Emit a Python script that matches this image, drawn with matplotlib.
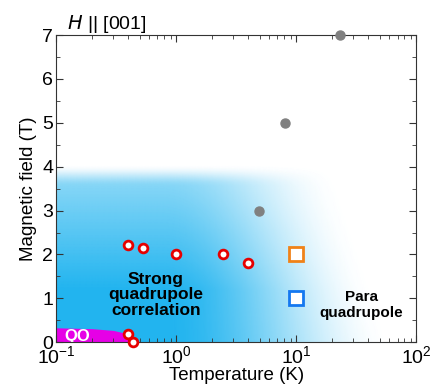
import numpy as np
import matplotlib.pyplot as plt
from matplotlib.colors import LinearSegmentedColormap

plt.rcParams['font.family'] = ['Liberation Sans', 'DejaVu Sans']
plt.rcParams['mathtext.default'] = 'regular'

# data
red_T = [0.396, 0.534, 1.0, 2.48, 4.0, 0.395, 0.44]
red_H = [2.21, 2.15, 2.02, 2.01, 1.80, 0.19, 0.0]
gray_T = [4.92, 8.15, 23.1]
gray_H = [3.0, 5.0, 7.0]
sq_orange = (10.0, 2.0)
sq_blue = (10.0, 1.0)
qo_T = [0.1, 0.2, 0.3, 0.36, 0.39, 0.42]
qo_H = [0.33, 0.31, 0.27, 0.22, 0.1, 0.0]

fig = plt.figure(figsize=(4.38, 3.85), dpi=100)
ax = fig.add_axes([0.128, 0.111, 0.822, 0.798])
ax.set_xscale('log')
ax.set_xlim(0.1, 100)
ax.set_ylim(0, 7)

# blue "strong correlation" shading
u = np.linspace(-1, 2, 300)
h = np.linspace(0, 7, 300)
U, Hm = np.meshgrid(u, h)
u_end = 1.8 - 0.12 * Hm
s = np.clip((u_end - U) / (u_end + 0.1), 0, 1)
fx = s * s * (3 - 2 * s)
t = np.clip((4.05 - Hm) / 0.5, 0, 1)
fy = t * t * (3 - 2 * t) * (1 - 0.45 * np.clip((Hm - 1.2) / 2.4, 0, 1))
inten = np.clip(fx * fy, 0, 1)
cmap = LinearSegmentedColormap.from_list('bl', ['#ffffff', '#22b4ef'])
ax.pcolormesh(10 ** U, Hm, inten, cmap=cmap, vmin=0, vmax=1, shading='gouraud', zorder=0)

ax.fill_between(qo_T, 0, qo_H, color='#e600e6', lw=0, zorder=1)
ax.text(0.15, 0.14, 'QO', color='white', fontsize=12, fontweight='bold',
        ha='center', va='center', zorder=2)

ax.plot(gray_T, gray_H, 'o', color='#808080', ms=6.5, clip_on=False, zorder=4)
ax.plot(red_T, red_H, 'o', mfc='white', mec='#e60000', mew=2, ms=6.3, clip_on=False, zorder=4)
ax.plot(*sq_orange, 's', mfc='white', mec='#f08218', mew=2, ms=9.5, zorder=4)
ax.plot(*sq_blue, 's', mfc='white', mec='#1478f0', mew=2, ms=9.5, zorder=4)

ax.text(0.68, 1.08, 'Strong\nquadrupole\ncorrelation', fontsize=12.5, fontweight='bold',
        ha='center', va='center', linespacing=1.05, zorder=3)
ax.text(35, 0.85, 'Para\nquadrupole', fontsize=11, fontweight='bold',
        ha='center', va='center', linespacing=1.15, zorder=3)

ax.set_yticks(range(0, 8))
ax.set_yticks(np.arange(0.5, 7, 1), minor=True)
ax.tick_params(which='both', direction='in', top=True, right=True, color='#333333')
ax.tick_params(which='major', length=5, labelsize=14, pad=2)
ax.tick_params(which='minor', length=3)
for sp in ax.spines.values():
    sp.set_color('#333333')

ax.set_xlabel('Temperature (K)', fontsize=13.5, labelpad=0)
ax.set_ylabel('Magnetic field (T)', fontsize=13.5, labelpad=4)
ax.set_title('$\\mathit{H}$ || [001]', fontsize=14, loc='left', x=0.03, pad=4)

fig.savefig('out.png', dpi=100)
